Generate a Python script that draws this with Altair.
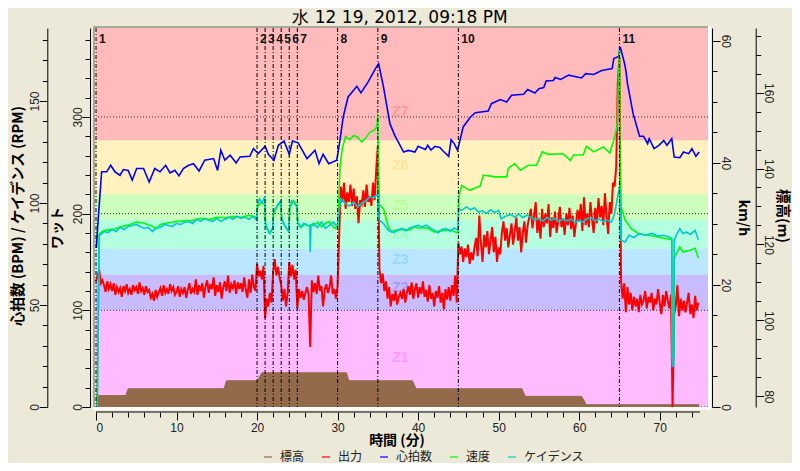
"""Ride summary chart: power, heart rate, speed, cadence and altitude over time."""

import altair as alt
import pandas as pd

BG = "#ECE9D8"
INK = "#222222"
FONT = "Noto Sans CJK JP"
NUM_FONT = "Liberation Sans"

SERIES = ["標高", "出力", "心拍数", "速度", "ケイデンス"]
SERIES_COLORS = ["#936A4A", "#FF0000", "#0000FF", "#00FF00", "#00C8D2"]

ZONE_NAMES = ["Z1", "Z2", "Z3", "Z4", "Z5", "Z6", "Z7"]
ZONE_LOW = [0, 100, 137, 164, 194, 220, 276]
ZONE_HIGH = [100, 137, 164, 194, 220, 276, 392]
ZONE_FILL = ["#FFBBFF", "#C9BBFF", "#BBE6FF", "#B3FFE0", "#CCFFBB", "#FFF2BF", "#FFBBBB"]
ZONE_TEXT = ["#FF99FF", "#A899FF", "#99D6FF", "#99FFCC", "#BBFF99", "#FFE599", "#FF9999"]
ZONE_LABEL_Y = [51, 123, 152, 178, 208, 249, 305]

LAP_LABELS = ["1", "2", "3", "4", "5", "6", "7", "8", "9", "10", "11"]
LAP_START = [0, 20, 21, 22, 23, 24, 25, 30, 35, 45, 65]

ALT_T = [0, 3.7, 4, 15.9, 16.2, 20, 20.6, 31.1, 31.4, 39.3, 39.75, 52.9, 53.3, 60.3, 60.9, 74.9]
ALT_M = [80.2, 80.2, 82, 82, 84.1, 84.1, 86.2, 86.2, 84.1, 84.1, 82, 82, 80, 80, 77.8, 77.8]
ALT_BASE = 77.2

# one reading every 0.2 minutes, five per row
POWER_STEP = 0.2
POWER_W = [
    130, 136, 142, 128, 131,
    126, 119, 130, 122, 127,
    120, 128, 116, 124, 119,
    123, 114, 125, 120, 127,
    118, 122, 116, 126, 121,
    124, 117, 129, 120, 123,
    116, 125, 119, 121, 113,
    117, 110, 121, 114, 119,
    123, 115, 126, 118, 122,
    117, 127, 120, 124, 116,
    119, 125, 114, 122, 118,
    124, 113, 121, 128, 117,
    122, 119, 132, 116, 126,
    120, 128, 113, 125, 131,
    118, 127, 122, 134, 115,
    126, 119, 129, 112, 124,
    130, 120, 136, 118, 127,
    123, 131, 117, 129, 122,
    128, 119, 134, 121, 113,
    132, 118, 137, 124, 120,
    148, 135, 141, 132, 146,
    92, 112, 104, 118, 108,
    140, 153, 136, 145, 134,
    126, 110, 122, 104, 118,
    150, 135, 147, 132, 142,
    102, 122, 113, 120, 111,
    118, 124, 116, 62, 131,
    119, 128, 117, 136, 120,
    125, 104, 121, 127, 118,
    124, 136, 117, 122, 112,
    125, 178, 228, 212, 232,
    205, 222, 212, 230, 208,
    226, 205, 218, 190, 214,
    210, 224, 207, 230, 212,
    218, 208, 232, 214, 245,
    270, 143, 128, 138, 120,
    130, 112, 124, 104, 117,
    110, 120, 106, 114, 118,
    112, 122, 108, 118, 125,
    116, 129, 112, 122, 128,
    113, 124, 117, 130, 114,
    121, 109, 126, 112, 118,
    104, 120, 113, 125, 108,
    118, 101, 122, 111, 124,
    110, 126, 115, 136, 108,
    170, 158, 166, 150, 164,
    155, 168, 148, 160, 152,
    165, 175, 156, 198, 170,
    150, 178, 165, 182, 158,
    172, 186, 160, 176, 150,
    165, 158, 180, 192, 172,
    185, 165, 178, 190, 168,
    182, 196, 172, 186, 160,
    180, 192, 170, 188, 196,
    205, 185, 198, 212, 180,
    194, 174, 205, 186, 200,
    190, 210, 176, 196, 185,
    202, 180, 192, 207, 186,
    195, 178, 200, 188, 206,
    184, 198, 176, 190, 204,
    192, 210, 182, 217, 188,
    200, 186, 212, 194, 180,
    206, 190, 216, 196, 208,
    188, 221, 198, 179, 212,
    200, 232, 228, 248, 335,
    362, 131, 112, 128, 98,
    124, 106, 118, 100, 114,
    104, 112, 98, 116, 106,
    110, 120, 102, 114, 108,
    118, 100, 112, 106, 122,
    108, 96, 116, 104, 120,
    110, 102, 116, 0, 96,
    105, 126, 94, 112, 100,
    110, 98, 108, 118, 96,
    106, 92, 115, 100, 108,
]

HR_T = [
    0.05, 0.2, 0.7, 1.33, 1.82, 2.36, 2.98, 3.4, 4.0, 4.5, 5.05, 5.9, 6.6, 7.3, 7.95, 8.65, 9.2, 9.8,
    10.3, 10.85, 11.5, 12.1, 12.8, 13.5, 14.6, 15.1, 15.5, 16.0, 16.65, 17.4, 17.9, 19.1, 19.55, 20.15,
    21.0, 21.4, 22.1, 22.65, 23.35, 24.0, 24.4, 25.1, 26.2, 27.2, 27.7, 28.2, 28.9, 29.9, 30.3, 30.7,
    31.3, 32.4, 32.9, 33.8, 34.7, 35.1, 35.7, 36.5, 37.1, 38.2, 38.8, 39.6, 40.0, 40.9, 41.2, 41.6,
    42.1, 42.7, 43.1, 43.8, 44.1, 44.5, 44.9, 45.6, 46.5, 47.1, 48.7, 49.1, 50.2, 51.0, 51.6, 53.1,
    53.6, 54.5, 55.0, 55.6, 55.9, 56.8, 57.0, 57.7, 58.7, 60.3, 60.8, 61.8, 62.8, 64.1, 64.3, 64.9,
    65.1, 65.6, 65.8, 66.0, 66.7, 67.5, 68.0, 68.5, 68.7, 69.3, 69.9, 70.5, 70.9, 71.5, 71.8, 72.5,
    72.95, 73.6, 74.0, 74.5, 74.9,
]
HR_BPM = [
    78, 88, 115.3, 115.3, 118.5, 115.3, 113.6, 116.4, 116, 111.2, 116.9, 116.9, 110.3, 116.9, 115.3,
    118.5, 114.8, 116, 113.3, 116.9, 118.5, 119.3, 115.7, 121, 121.8, 116, 125.9, 121, 123.4, 119.7,
    122.6, 122.9, 126.7, 124.2, 127.8, 123.9, 121, 128.3, 130.4, 123.9, 130.4, 129.5, 121.8, 125.9,
    119.3, 123.9, 119.3, 121, 130.8, 142.2, 152, 157.2, 154, 159.4, 165.9, 168.3, 156.9, 138.9, 133.2,
    125, 125.8, 125, 127.8, 126.2, 128.3, 126, 127.8, 127.2, 125.5, 122.9, 131, 129, 125.8, 137.3,
    142.2, 144.3, 145.1, 148.7, 150.7, 149.5, 152.8, 153.3, 155.6, 153.9, 156, 156.6, 159.8, 160.1,
    161.5, 160.6, 162.7, 161.3, 163.4, 163, 165, 165.9, 170.8, 171.9, 176.5, 169.1, 165, 158.5, 143.8,
    132.7, 132.7, 129.1, 131.6, 126.7, 128.3, 130.7, 128.3, 131.6, 122.5, 122.2, 125, 124.2, 126.7,
    122.9, 125,
]

SPEED_T = [
    0, 0.15, 0.4, 1, 2, 3, 4, 5, 6, 7, 7.5, 8, 9, 10, 11, 12, 13, 14, 15, 16, 17, 18, 19, 19.95,
    20.05, 20.5, 20.95, 21.05, 21.5, 21.95, 22.05, 22.5, 22.95, 23.05, 23.5, 23.95, 24.05, 24.5, 24.95,
    25.05, 25.5, 26, 26.55, 26.6, 26.7, 27, 27.5, 28, 28.5, 29, 29.5, 29.95,
    30.05, 30.3, 30.6, 31, 31.5, 32, 32.5, 33, 33.5, 34, 34.5, 34.9, 35, 35.1, 35.7, 36.3, 36.7,
    37, 38, 39, 39.5, 40, 41, 42, 43, 44, 44.95,
    45.05, 45.4, 46.4, 47.7, 48.1, 49.6, 51, 51.2, 52, 52.7, 53.7, 54.7, 55.4, 56.2, 58, 58.9, 59.3,
    60.5, 60.9, 61.8, 63, 63.8, 64.3, 64.7, 65, 65.1, 65.7, 66.5, 67.4, 68.8, 71.5, 71.55, 71.75,
    71.8, 72.5, 72.9, 73.8, 74.4, 74.8,
]
SPEED_KMH = [
    0, 0, 28.4, 28.9, 29.1, 29.5, 29.8, 30.3, 30.1, 29.6, 29.2, 29.9, 30.2, 30.4, 30.5, 30.6, 30.9,
    30.7, 31.1, 31, 31.2, 31.1, 31.4, 31.1,
    32.8, 33.5, 33.2, 29.8, 28.6, 29.1, 31.6, 32.9, 33.5, 30.8, 29.6, 28.7, 32.6, 33.8, 33.1,
    30.2, 29.5, 30, 29.6, 29.6, 29.9, 29.7, 30.3, 29.5, 30.1, 30.4, 29.4, 29.2,
    30, 39.3, 42.5, 44.3, 43.8, 44.5, 44.2, 43.4, 44.1, 45, 45.3, 45.9, 48, 33.3, 32.5, 29.5, 28.7,
    28.9, 29.1, 29, 29.5, 29.3, 29.4, 28.7, 28.9, 29, 28.5,
    34.4, 36.3, 35.5, 36.2, 38, 37.7, 37.7, 39.1, 39.9, 38.8, 39.6, 39.6, 41.8, 41.4, 41.5, 40.4, 41.3,
    41.3, 42.7, 41.8, 42.6, 41.6, 43.7, 45.9, 58.5, 33.3, 30.6, 29.2, 28.4, 28.1, 27.4, 8.2, 8.2,
    24.4, 26.2, 25.4, 25.7, 26, 24.4,
]

CAD_T = [
    0, 0.15, 0.4, 1, 1.5, 2, 2.5, 3, 3.5, 4, 4.5, 5, 5.5, 6, 6.5, 7, 7.5, 8, 8.5, 9, 9.5, 10, 10.5,
    11, 11.5, 12, 12.5, 13, 13.5, 14, 14.5, 15, 15.5, 16, 16.5, 17, 17.5, 18, 18.5, 19, 19.5, 19.95,
    20.05, 20.3, 20.6, 20.95, 21.05, 21.3, 21.6, 21.95, 22.05, 22.4, 22.7, 22.95, 23.05, 23.3, 23.6,
    23.95, 24.05, 24.3, 24.6, 24.95, 25.05, 25.4, 25.8, 26.2, 26.55, 26.6, 26.7, 27, 27.5, 28, 28.5,
    29, 29.5, 29.95, 30.05, 30.4, 31, 31.5, 32, 32.5, 33, 33.5, 34, 34.5, 35, 35.1, 35.7, 36.3, 37,
    37.5, 38, 38.5, 39, 39.5, 40, 40.5, 41, 41.5, 42, 42.5, 43, 43.5, 44, 44.5, 44.95,
    45.05, 45.4, 46, 46.5, 47, 47.5, 48, 48.5, 49, 49.5, 50, 50.3, 50.8, 51.5, 52, 52.5, 53, 53.5, 54,
    54.5, 55, 55.5, 56, 56.5, 57, 57.5, 58, 58.5, 59, 59.5, 60, 60.5, 61, 61.5, 62, 62.5, 63, 63.5,
    64, 64.4, 64.7, 65, 65.2, 65.7, 66.2, 66.8, 67.5, 68.2, 69, 69.8, 70.5, 71.2, 71.5, 71.55, 71.75,
    71.8, 72.1, 72.5, 72.9, 73.3, 73.8, 74.4, 74.8,
]
CAD_RPM = [
    0, 0, 84, 86, 85.5, 87, 86, 88, 87, 88.5, 89, 89.5, 88.5, 87.5, 88, 86, 88, 88, 89.5, 89, 88.5, 90,
    89.5, 90.5, 91, 90, 92, 91, 92.5, 91.5, 91, 92.5, 91, 92, 93, 92, 93.5, 92.5, 93, 92, 93.5, 91.5,
    99, 102, 100, 103, 90, 87, 85, 88, 96, 98, 100, 101, 93, 90, 88, 86, 98, 101, 100, 98,
    90, 88, 90, 89, 89, 76, 89, 90, 88, 90.7, 87.6, 89, 90.7, 88.2, 92, 102, 99.7, 98.5, 100.5, 98,
    100, 101, 103, 102.5, 104.6, 92, 89.9, 86.6, 85.5, 86.8, 87.6, 86.4, 87.9, 88.5, 89, 88.3, 89.2,
    87.8, 86.6, 85.4, 87.1, 87.4, 86.2, 87.8, 86.6,
    97.3, 96.4, 98.1, 96.8, 97.6, 95.6, 96.2, 94.9, 96.7, 95.4, 96.4, 92.3, 93.4, 94.4, 93.1, 94.6,
    92.8, 94, 93.1, 91.5, 92.6, 91.2, 93, 91.5, 92.3, 90.9, 92.3, 91.2, 92.1, 90.4, 91.4, 90.7, 92.4,
    92.8, 91.3, 92.2, 90.8, 91.5, 90.6, 94.9, 101.3, 108, 81.7, 80.9, 84.2, 83.1, 85, 84.2, 85.1, 83.8,
    84.2, 83.3, 82.5, 20, 20, 81.7, 84.5, 87.4, 85, 85.8, 84.6, 86.6, 82,
]

WATT_GRID = [0, 100, 200, 300]

W, H = 612, 379
x_scale = alt.Scale(domain=[0, 76], nice=False, zero=False)
watt_scale = alt.Scale(domain=[0, 392], nice=False)
bpm_scale = alt.Scale(domain=[0, 185.8], nice=False)
kmh_scale = alt.Scale(domain=[0, 62.1], nice=False)
alt_scale = alt.Scale(domain=[ALT_BASE, 177], nice=False, zero=False)

time_axis = alt.Axis(
    title=None,
    offset=5,
    domain=False,
    grid=False,
    values=list(range(0, 75, 2)),
    labelExpr="datum.value % 10 === 0 ? datum.label : ''",
    labelFont=NUM_FONT,
    labelFontSize=12,
    labelColor=INK,
    labelPadding=2,
    tickColor="#000000",
    tickSize={"condition": {"test": "datum.value % 10 === 0", "value": 8}, "value": 5},
)
x_time = alt.X("t:Q", scale=x_scale, axis=time_axis)


def value_axis(orient, offset, values, major, pad):
    return alt.Axis(
        orient=orient,
        offset=offset,
        title=None,
        grid=False,
        values=values,
        labelExpr=f"datum.value % {major} === 0 ? datum.label : ''",
        labelAngle=270 if orient == "left" else 90,
        labelAlign="center",
        labelBaseline="bottom",
        labelPadding=pad,
        labelFont=NUM_FONT,
        labelFontSize=12,
        labelColor=INK,
        labelOverlap=False,
        domainColor="#000000",
        domainWidth=1,
        tickColor="#000000",
        tickSize={"condition": {"test": f"datum.value % {major} === 0", "value": 8}, "value": 5},
    )


def line_layer(t, values, name, scale, axis=None, legend=None, width=1.6):
    df = pd.DataFrame({"t": t, "v": values, "series": name})
    return (
        alt.Chart(df)
        .mark_line(strokeWidth=width)
        .encode(
            x=x_time,
            y=alt.Y("v:Q", scale=scale, axis=axis),
            color=alt.Color("series:N", scale=alt.Scale(domain=SERIES, range=SERIES_COLORS), legend=legend),
        )
    )


def text_layer(label, px, py, size, weight="normal", angle=0, font=FONT, color="#000000"):
    return (
        alt.Chart(pd.DataFrame({"label": [label]}))
        .mark_text(fontSize=size, fontWeight=weight, angle=angle, font=font, color=color)
        .encode(text="label:N", x=alt.value(px), y=alt.value(py))
    )


zones = pd.DataFrame({
    "name": ZONE_NAMES, "lo": ZONE_LOW, "hi": ZONE_HIGH, "fill": ZONE_FILL,
    "text": ZONE_TEXT, "label_y": ZONE_LABEL_Y, "t": [37.8] * 7,
})
laps = pd.DataFrame({"lap": LAP_LABELS, "t": LAP_START})

band_layer = (
    alt.Chart(zones)
    .mark_rect()
    .encode(
        x=alt.value(0),
        x2=alt.value(W),
        y=alt.Y("lo:Q", scale=watt_scale, axis=value_axis("left", 6, list(range(0, 381, 20)), 100, -2)),
        y2="hi:Q",
        fill=alt.Fill("fill:N", scale=None),
    )
)
zone_text = (
    alt.Chart(zones)
    .mark_text(fontSize=14, font=NUM_FONT, fontWeight="bold")
    .encode(
        x=x_time,
        y=alt.Y("label_y:Q", scale=watt_scale, axis=None),
        text="name:N",
        fill=alt.Fill("text:N", scale=None),
    )
)
grid_layer = (
    alt.Chart(pd.DataFrame({"w": WATT_GRID}))
    .mark_rule(color="#333333", strokeWidth=1, strokeDash=[1, 2])
    .encode(y=alt.Y("w:Q", scale=watt_scale, axis=None))
)

elev_area = (
    alt.Chart(pd.DataFrame({"t": ALT_T, "v": ALT_M, "base": ALT_BASE}))
    .mark_area(color=SERIES_COLORS[0], opacity=1)
    .encode(
        x=x_time,
        y=alt.Y(
            "v:Q",
            scale=alt_scale,
            axis=value_axis("right", 47.7, list(range(80, 176, 5)), 20, -2),
        ),
        y2="base:Q",
    )
)

legend = alt.Legend(
    title=None,
    orient="none",
    legendX=166,
    legendY=423,
    direction="horizontal",
    columns=5,
    gridAlign="none",
    symbolType="stroke",
    symbolSize=64,
    symbolStrokeWidth=1.2,
    labelFont=FONT,
    labelFontSize=12,
    labelColor=INK,
    labelOffset=6,
    columnPadding=14,
    padding=0,
)
elev_line = line_layer(ALT_T, ALT_M, SERIES[0], alt_scale, legend=legend, width=1)
power_t = [round(i * POWER_STEP, 1) for i in range(len(POWER_W))]
power_line = line_layer(power_t, POWER_W, SERIES[1], watt_scale, width=2)
hr_line = line_layer(
    HR_T, HR_BPM, SERIES[2], bpm_scale,
    axis=value_axis("left", 48.7, list(range(0, 181, 10)), 50, -2),
)
speed_line = line_layer(
    SPEED_T, SPEED_KMH, SERIES[3], kmh_scale,
    axis=value_axis("right", 4, list(range(0, 61, 5)), 20, -2),
)
cad_line = line_layer(CAD_T, CAD_RPM, SERIES[4], bpm_scale)

lap_rules = (
    alt.Chart(laps)
    .mark_rule(color="#000000", strokeWidth=1, strokeDash=[4, 2, 1, 2])
    .encode(x=x_time)
)
lap_text = (
    alt.Chart(laps)
    .mark_text(font=NUM_FONT, fontSize=12, fontWeight="bold", align="left", dx=3, color="#111111")
    .encode(x=x_time, y=alt.value(11), text="lap:N")
)

time_line = (
    alt.Chart(pd.DataFrame({"t": [0], "b": [75]}))
    .mark_rule(color="#000000", strokeWidth=1)
    .encode(x=x_time, x2="b:Q", y=alt.value(H + 5))
)
frame_left = alt.Chart(pd.DataFrame({"a": [0]})).mark_rule(color="#ACA899", strokeWidth=2).encode(
    x=alt.value(-2), y=alt.value(-2), y2=alt.value(H + 1)
)
frame_top = alt.Chart(pd.DataFrame({"a": [0]})).mark_rule(color="#ACA899", strokeWidth=2).encode(
    x=alt.value(-3), x2=alt.value(W), y=alt.value(-1)
)
frame_right = alt.Chart(pd.DataFrame({"a": [0]})).mark_rule(color="#FFFFFF", strokeWidth=3).encode(
    x=alt.value(W + 1.5), y=alt.value(-2), y2=alt.value(H + 3)
)
frame_bottom = alt.Chart(pd.DataFrame({"a": [0]})).mark_rule(color="#FFFFFF", strokeWidth=3).encode(
    x=alt.value(-3), x2=alt.value(W + 3), y=alt.value(H + 1.5)
)

chart = (
    alt.layer(
        band_layer,
        zone_text,
        grid_layer,
        elev_area,
        elev_line,
        power_line,
        hr_line,
        speed_line,
        cad_line,
        lap_rules,
        lap_text,
        time_line,
        frame_left,
        frame_top,
        frame_right,
        frame_bottom,
        text_layer("水 12 19, 2012, 09:18 PM", 304, -10, 17, font="DejaVu Sans"),
        text_layer("心拍数 (BPM) / ケイデンス (RPM)", -77, 188, 14.5, "bold", 270),
        text_layer("ワット", -38, 200, 14, "bold", 270),
        text_layer("km/h", 647, 190, 14, "bold", 90),
        text_layer("標高(m)", 686, 188, 14.5, "bold", 90),
        text_layer("時間 (分)", 301, 413, 14, "bold"),
    )
    .resolve_scale(y="independent")
    .properties(
        width=W,
        height=H,
        background=BG,
        padding={"left": 88, "top": 20, "right": 84, "bottom": 56},
        autosize=alt.AutoSizeParams(type="none"),
    )
    .configure_view(strokeWidth=0)
)

chart.save("out.html", embed_options={"renderer": "svg", "actions": False})
